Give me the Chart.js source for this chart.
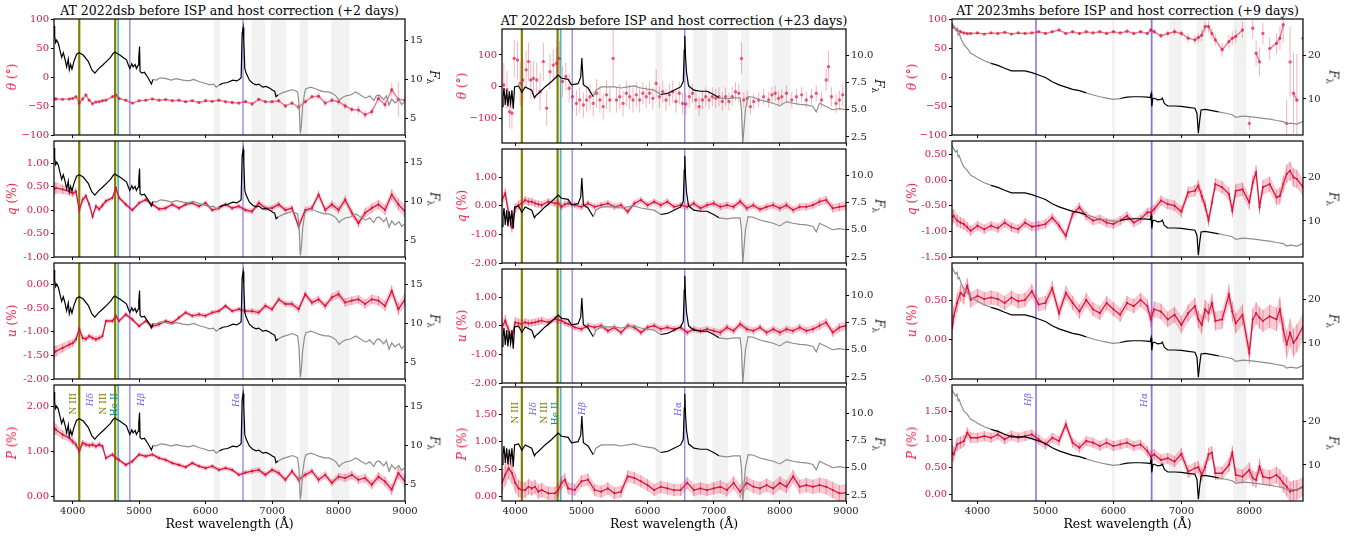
<!DOCTYPE html>
<html>
<head>
<meta charset="utf-8">
<script src="https://cdn.jsdelivr.net/npm/chart.js@4.4.0/dist/chart.umd.min.js"></script>
<style>
  body { margin: 0; width: 1365px; height: 537px; background: #fff; position: relative; overflow: hidden; font-family: 'DejaVu Serif', serif; }
  canvas { position: absolute; }
  .t, .yl, .fl { position: absolute; white-space: nowrap; line-height: 1; }
  .t { transform: translate(-50%, -50%); font-size: 12.5px; color: #000; }
  .yl { transform: translate(-50%, -50%) rotate(-90deg); font-size: 12px; color: #dc143c; }
  .fl { transform: translate(-50%, -50%) rotate(90deg); font-size: 12px; color: #222; }
  .fl sub { font-size: 8.5px; }
</style>
</head>
<body>
<script>
// ---------- AT 2022dsb, +2 days ----------
const wl1 = [3720, 3750, 3850, 3950, 4000, 4050, 4100, 4150, 4200, 4250,
  4300, 4350, 4400, 4450, 4500, 4600, 4650, 4700, 4800, 4900,
  5000, 5100, 5200, 5300, 5400, 5500, 5600, 5700, 5800, 5900,
  6000, 6100, 6200, 6300, 6400, 6500, 6600, 6700, 6800, 6900,
  7000, 7100, 7200, 7300, 7400, 7500, 7600, 7700, 7800, 7900,
  8000, 8100, 8200, 8300, 8400, 8500, 8600, 8700, 8800, 8900, 9000];
const theta1 = [-38, -38, -38.5, -38, -37, -34, -45, -38, -31, -40,
  -46, -43, -42.5, -41, -40, -34, -31, -37, -40, -45,
  -41, -40, -38, -40, -39, -41, -40, -42.5, -41, -44,
  -41, -42, -40, -42.5, -44, -45, -42.5, -46.5, -38.5, -42.5,
  -42.5, -41, -50, -45, -52, -42.5, -34, -33, -45, -40,
  -42.5, -50, -56, -57, -65, -60, -37, -48, -22, -38.5, -40];
const thetaErr1 = [3, 3, 2, 2, 2, 2, 2, 2, 2, 2,
  2, 2, 2, 2, 2, 2, 2, 2, 2, 2,
  2, 2, 2, 2, 2, 2, 2, 2, 2, 2,
  2.5, 2.5, 2.5, 2.5, 3, 3, 3, 3, 3, 3,
  3, 3, 3, 4, 5, 4, 4, 5, 6, 5,
  6, 6, 6, 7, 8, 7, 7, 8, 12, 30, 10];
const q1 = [0.44, 0.47, 0.44, 0.40, 0.35, 0.40, 0.00, 0.22, 0.30, 0.12,
  -0.14, 0.08, 0.02, 0.10, 0.19, 0.26, 0.47, 0.26, 0.12, 0.00,
  0.15, 0.22, 0.12, 0.02, 0.04, 0.12, 0.04, 0.12, 0.15, 0.08,
  0.15, 0.00, 0.04, 0.12, 0.04, 0.08, 0.00, -0.03, 0.15, 0.04,
  0.04, 0.12, 0.00, 0.04, -0.35, 0.00, 0.04, 0.33, 0.00, 0.12,
  0.00, 0.22, -0.06, -0.28, -0.06, 0.04, 0.12, 0.00, 0.33, 0.12, -0.03];
const u1 = [-1.45, -1.41, -1.34, -1.27, -1.24, -1.16, -0.94, -1.13, -1.15, -1.09,
  -1.13, -1.16, -1.13, -1.09, -0.77, -0.77, -0.66, -0.77, -0.63, -0.74,
  -0.88, -0.77, -0.88, -0.84, -0.77, -0.81, -0.70, -0.59, -0.66, -0.63,
  -0.66, -0.59, -0.56, -0.45, -0.56, -0.52, -0.56, -0.56, -0.59, -0.45,
  -0.52, -0.31, -0.41, -0.41, -0.52, -0.20, -0.38, -0.31, -0.45, -0.27,
  -0.20, -0.38, -0.34, -0.31, -0.41, -0.31, -0.34, -0.45, -0.13, -0.52, -0.31];
const p1 = [1.52, 1.48, 1.37, 1.30, 1.22, 1.15, 1.00, 1.19, 1.15, 1.13,
  1.15, 1.11, 1.15, 1.11, 0.85, 0.93, 0.85, 0.81, 0.70, 0.78,
  0.93, 0.89, 0.93, 0.85, 0.81, 0.74, 0.70, 0.65, 0.74, 0.67,
  0.63, 0.67, 0.59, 0.63, 0.59, 0.48, 0.53, 0.56, 0.59, 0.48,
  0.59, 0.52, 0.37, 0.56, 0.37, 0.48, 0.56, 0.37, 0.48, 0.30,
  0.44, 0.41, 0.48, 0.37, 0.41, 0.26, 0.44, 0.33, 0.15, 0.52, 0.33];
const polErr1 = [0.15, 0.12, 0.10, 0.09, 0.08, 0.08, 0.07, 0.07, 0.06, 0.06,
  0.06, 0.06, 0.06, 0.06, 0.05, 0.05, 0.05, 0.05, 0.05, 0.05,
  0.05, 0.05, 0.05, 0.05, 0.05, 0.05, 0.05, 0.05, 0.05, 0.05,
  0.05, 0.05, 0.05, 0.05, 0.05, 0.05, 0.05, 0.06, 0.06, 0.06,
  0.06, 0.06, 0.06, 0.07, 0.08, 0.07, 0.07, 0.08, 0.08, 0.08,
  0.08, 0.09, 0.09, 0.09, 0.10, 0.10, 0.10, 0.11, 0.12, 0.13, 0.14];
const fluxWl1 = [3720, 3730, 3745, 3760, 3785, 3810, 3835, 3860, 3885, 3910,
  3935, 3950, 3970, 3990, 4020, 4060, 4100, 4160, 4235, 4290,
  4335, 4385, 4450, 4510, 4570, 4610, 4635, 4670, 4710, 4760,
  4810, 4840, 4860, 4890, 4910, 4940, 4960, 4985, 4995, 5007,
  5015, 5040, 5080, 5135, 5185, 5210, 5260, 5320, 5410, 5480,
  5560, 5660, 5750, 5820, 5910, 5990, 6060, 6120, 6160, 6210,
  6260, 6330, 6410, 6470, 6510, 6535, 6550, 6565, 6575, 6590,
  6610, 6660, 6710, 6760, 6800, 6860, 6910, 6960, 7010, 7040,
  7060, 7090, 7160, 7230, 7310, 7385, 7405, 7425, 7440, 7460,
  7490, 7510, 7585, 7650, 7710, 7790, 7850, 7910, 7960, 8010,
  8060, 8110, 8180, 8260, 8330, 8410, 8470, 8530, 8570, 8610,
  8680, 8720, 8760, 8800, 8850, 8910, 8950, 8985];
const flux1 = [16.8, 15.5, 14.7, 15.0, 14.6, 13.7, 12.8, 13.4, 12.6, 11.6,
  12.6, 11.2, 11.9, 11.3, 12.3, 13.2, 13.4, 13.1, 12.3, 11.2,
  10.8, 11.3, 11.8, 12.3, 12.8, 13.3, 13.5, 13.3, 13.1, 12.8,
  12.5, 11.8, 11.4, 12.0, 11.6, 11.9, 11.4, 11.8, 12.8, 14.2,
  11.0, 10.8, 10.9, 10.2, 9.4, 10.0, 9.9, 10.2, 10.1, 9.9,
  10.1, 9.9, 9.8, 10.0, 9.7, 9.5, 9.3, 9.4, 9.0, 9.3,
  9.5, 9.6, 9.9, 9.8, 10.0, 10.2, 15.8, 16.6, 15.0, 11.4,
  10.8, 9.9, 9.5, 9.3, 9.4, 9.0, 9.1, 8.9, 8.6, 8.5,
  7.8, 8.0, 8.3, 8.5, 8.7, 8.4, 7.0, 3.1, 4.0, 6.5,
  8.3, 8.8, 9.0, 8.8, 8.6, 8.4, 8.4, 8.2, 7.9, 7.3,
  7.7, 7.9, 8.0, 8.4, 8.0, 7.6, 7.9, 7.3, 7.9, 8.0,
  7.4, 7.9, 6.7, 7.5, 7.0, 7.4, 6.8, 7.1];

// ---------- AT 2022dsb, +23 days ----------
const wl2 = [3800, 3850, 3900, 3950, 4000, 4050, 4100, 4150, 4200, 4250,
  4300, 4350, 4400, 4500, 4600, 4650, 4700, 4750, 4800, 4900,
  5000, 5100, 5200, 5300, 5400, 5500, 5600, 5700, 5800, 5900,
  6000, 6100, 6200, 6300, 6400, 6500, 6600, 6700, 6800, 6900,
  7000, 7100, 7200, 7300, 7400, 7500, 7600, 7700, 7800, 7900,
  8000, 8100, 8200, 8300, 8400, 8500, 8600, 8700, 8800, 8900, 9000];
const q2 = [0.20, 0.43, -0.27, -0.74, -0.09, 0.02, 0.08, 0.20, 0.14, 0.14,
  0.08, 0.05, 0.02, 0.14, 0.08, 0.10, -0.04, 0.05, 0.08, 0.02,
  -0.04, 0.08, -0.04, 0.02, 0.08, -0.04, 0.02, -0.21, 0.08, 0.20,
  0.02, 0.14, 0.02, 0.14, -0.04, 0.02, -0.04, 0.08, -0.09, 0.02,
  0.08, -0.04, 0.02, -0.04, 0.15, -0.09, 0.02, -0.13, -0.04, 0.02,
  -0.09, 0.02, -0.15, -0.04, -0.04, 0.02, 0.14, 0.20, -0.09, -0.04, -0.01];
const u2 = [-0.06, 0.18, -0.18, -0.41, 0.12, 0.08, 0.06, 0.12, 0.08, 0.10,
  0.12, 0.15, 0.18, 0.12, 0.24, 0.20, 0.18, 0.10, 0.06, -0.06,
  -0.12, 0.00, -0.06, 0.00, -0.18, -0.06, -0.24, 0.00, -0.06, -0.24,
  -0.06, 0.00, -0.12, -0.06, -0.12, -0.06, -0.24, -0.12, -0.18, -0.12,
  -0.18, -0.24, -0.06, -0.18, 0.06, -0.12, -0.18, -0.06, -0.24, -0.12,
  -0.24, -0.12, -0.18, -0.06, -0.18, -0.12, 0.00, 0.12, -0.24, -0.06, 0.00];
const p2 = [0.25, 0.40, 0.52, 0.43, 0.25, 0.15, 0.12, 0.12, 0.18, 0.15,
  0.18, 0.09, 0.12, 0.06, 0.06, 0.12, 0.25, 0.31, 0.15, 0.12,
  0.28, 0.31, 0.12, 0.09, 0.15, 0.06, 0.09, 0.37, 0.34, 0.28,
  0.21, 0.12, 0.18, 0.15, 0.12, 0.12, 0.25, 0.12, 0.15, 0.12,
  0.15, 0.18, 0.12, 0.25, 0.09, 0.25, 0.18, 0.15, 0.21, 0.15,
  0.25, 0.18, 0.37, 0.18, 0.21, 0.18, 0.21, 0.18, 0.12, 0.06, 0.07];
const polErr2 = [0.20, 0.20, 0.20, 0.20, 0.18, 0.16, 0.15, 0.14, 0.14, 0.13,
  0.13, 0.13, 0.13, 0.12, 0.12, 0.12, 0.12, 0.12, 0.11, 0.11,
  0.11, 0.11, 0.11, 0.11, 0.11, 0.11, 0.11, 0.11, 0.11, 0.11,
  0.11, 0.11, 0.11, 0.11, 0.11, 0.11, 0.11, 0.11, 0.11, 0.11,
  0.11, 0.12, 0.12, 0.12, 0.13, 0.12, 0.12, 0.12, 0.12, 0.12,
  0.12, 0.12, 0.12, 0.13, 0.13, 0.13, 0.14, 0.14, 0.15, 0.15, 0.16];
const thetaWl2 = [3827, 3875, 3915, 3950, 3985, 4035, 4075, 4115, 4165, 4200,
  4235, 4275, 4325, 4375, 4425, 4475, 4525, 4575, 4625, 4665,
  4715, 4765, 4815, 4865, 4925, 4975, 5030, 5080, 5130, 5180,
  5230, 5280, 5330, 5380, 5430, 5480, 5530, 5580, 5630, 5680,
  5730, 5780, 5830, 5880, 5930, 5980, 6030, 6080, 6130, 6180,
  6230, 6280, 6330, 6380, 6430, 6480, 6530, 6580, 6630, 6680,
  6730, 6780, 6830, 6880, 6930, 6980, 7030, 7080, 7130, 7180,
  7230, 7280, 7330, 7380, 7420, 7455, 7505, 7555, 7605, 7680,
  7755, 7830, 7880, 7930, 7980, 8030, 8100, 8180, 8250, 8330,
  8400, 8480, 8550, 8630, 8700, 8735, 8780, 8850, 8900, 8950];
const theta2 = [5, -10, -79, -84, 89, 84, 10, 21, 53, 79,
  21, 26, 21, -16, 79, -68, 47, 68, 74, 89,
  16, 32, -5, -32, -53, -42, -58, -42, -32, -53,
  -21, -42, -63, -26, -42, 89, -42, -32, -53, -21,
  -32, -42, -26, -42, -21, -32, -21, -37, 10, -32,
  -16, -42, -26, -16, -47, -21, -53, -55, -32, -21,
  -42, -63, -42, -32, -42, -32, -37, -32, -47, -32,
  -47, -32, -16, -21, 89, -42, -37, -63, -47, -42,
  -32, -42, -26, -21, -37, -32, -21, -42, -32, -26,
  -42, -32, -21, -42, 21, 63, -32, -53, -42, -26];
const thetaErr2 = [70, 60, 50, 50, 60, 60, 70, 70, 60, 60,
  60, 55, 55, 60, 60, 55, 55, 50, 50, 55,
  50, 45, 45, 45, 40, 40, 40, 40, 40, 40,
  45, 40, 40, 45, 40, 90, 40, 40, 40, 40,
  40, 40, 40, 40, 35, 35, 35, 35, 45, 35,
  35, 35, 35, 35, 35, 35, 35, 35, 35, 30,
  30, 30, 30, 30, 30, 30, 30, 30, 30, 30,
  30, 30, 30, 30, 50, 25, 25, 25, 25, 25,
  25, 25, 25, 25, 25, 25, 25, 25, 25, 25,
  25, 25, 25, 25, 35, 50, 30, 30, 30, 35];
const fluxWl2 = [3800, 3815, 3830, 3850, 3870, 3890, 3910, 3930, 3950, 3970,
  3990, 4050, 4100, 4150, 4250, 4290, 4310, 4350, 4450, 4550,
  4650, 4700, 4800, 4850, 4950, 4990, 5007, 5030, 5100, 5180,
  5220, 5300, 5400, 5500, 5600, 5700, 5800, 5900, 6000, 6100,
  6200, 6300, 6400, 6500, 6540, 6555, 6563, 6575, 6590, 6620,
  6700, 6800, 6900, 7000, 7080, 7200, 7300, 7400, 7420, 7440,
  7460, 7480, 7520, 7600, 7700, 7800, 7900, 8000, 8100, 8200,
  8300, 8400, 8500, 8550, 8600, 8700, 8800, 8900, 9000];
const flux2 = [5.3, 6.2, 7.0, 5.45, 6.8, 5.3, 6.7, 5.6, 6.8, 5.1,
  7.1, 7.2, 6.6, 7.1, 6.8, 6.1, 6.3, 6.5, 7.1, 7.6,
  8.2, 7.9, 7.8, 7.3, 7.4, 8.0, 9.75, 7.3, 7.0, 6.2,
  6.8, 7.1, 7.1, 7.1, 7.0, 7.1, 7.2, 7.0, 6.9, 6.8,
  6.4, 6.5, 6.8, 7.1, 7.6, 10.5, 11.8, 9.8, 8.4, 7.2,
  6.8, 6.7, 6.7, 6.4, 6.1, 6.0, 6.1, 6.1, 5.0, 1.9,
  3.5, 5.0, 6.2, 6.15, 5.9, 5.75, 5.6, 5.35, 5.75, 5.6,
  5.5, 5.45, 5.3, 4.8, 5.6, 5.3, 5.0, 5.1, 5.0];

// ---------- AT 2023mhs, +9 days ----------
const wl3 = [3625, 3650, 3700, 3750, 3800, 3850, 3900, 4000, 4100, 4200,
  4300, 4400, 4500, 4600, 4700, 4800, 4900, 5000, 5100, 5200,
  5300, 5400, 5500, 5600, 5700, 5800, 5900, 6000, 6100, 6200,
  6300, 6400, 6500, 6550, 6600, 6700, 6800, 6900, 7000, 7100,
  7200, 7250, 7300, 7350, 7400, 7450, 7500, 7600, 7700, 7750,
  7800, 7900, 8000, 8050, 8100, 8150, 8200, 8300, 8400, 8450,
  8500, 8550, 8600, 8650, 8700, 8790];
const theta3 = [90, 86, 81, 78, 76, 75, 75, 76, 74, 76,
  75, 77, 74, 76, 75, 76, 78, 75, 78, 81,
  75, 78, 75, 78, 76, 78, 75, 78, 76, 79,
  75, 78, 75, 81, 78, 71, 75, 78, 75, 67,
  64, 68, 72, 87, 87, 75, 64, 47, 61, 67,
  70, 81, -80, 84, 41, 26, 75, 49, 58, 67,
  90, -80, 26, -28, -40, 67];
const thetaErr3 = [3, 3, 2.5, 2.5, 2, 2, 2, 2, 2, 2,
  2, 2, 2, 2, 2, 2, 2, 2, 2, 2.5,
  2.5, 2.5, 2.5, 3, 3, 3, 3, 3, 3, 3,
  3, 3, 3, 4, 4, 5, 5, 6, 6, 8,
  8, 8, 10, 10, 10, 10, 10, 12, 12, 12,
  12, 14, 12, 18, 22, 25, 18, 20, 18, 20,
  30, 40, 60, 70, 80, 40];
const q3 = [-0.73, -0.70, -0.79, -0.83, -0.86, -0.92, -0.99, -0.89, -0.96, -0.89,
  -0.94, -0.83, -0.92, -0.96, -0.83, -0.91, -0.89, -0.86, -0.73, -0.89,
  -1.09, -0.66, -0.53, -0.70, -0.79, -0.76, -0.83, -0.86, -0.79, -0.70,
  -0.83, -0.76, -0.63, -0.63, -0.57, -0.40, -0.47, -0.50, -0.62, -0.24,
  -0.21, -0.11, -0.31, -0.50, -0.79, -0.44, -0.08, -0.14, -0.27, -0.60,
  -0.21, -0.18, -0.44, -0.05, 0.15, -0.53, -0.14, -0.08, -0.34, -0.31,
  -0.08, 0.12, 0.18, 0.05, 0.02, -0.14];
const u3 = [0.15, 0.30, 0.47, 0.60, 0.56, 0.69, 0.51, 0.56, 0.52, 0.54,
  0.52, 0.47, 0.54, 0.49, 0.51, 0.62, 0.45, 0.47, 0.66, 0.34,
  0.60, 0.47, 0.36, 0.51, 0.39, 0.34, 0.47, 0.39, 0.32, 0.47,
  0.43, 0.51, 0.43, 0.26, 0.39, 0.36, 0.26, 0.32, 0.19, 0.34,
  0.43, 0.26, 0.19, 0.39, 0.34, 0.47, 0.24, 0.26, 0.58, 0.36,
  0.21, 0.32, -0.17, 0.26, 0.34, 0.28, 0.24, 0.30, 0.26, 0.39,
  0.13, -0.06, 0.09, -0.04, 0.02, 0.17];
const p3 = [0.76, 0.73, 0.91, 0.94, 0.97, 1.12, 1.03, 1.03, 1.06, 1.03,
  1.09, 1.00, 1.07, 1.03, 1.06, 1.09, 1.00, 0.91, 1.03, 0.97,
  1.27, 0.94, 0.85, 0.97, 0.94, 0.88, 0.94, 0.88, 0.91, 0.94,
  0.88, 0.91, 0.79, 0.69, 0.73, 0.63, 0.66, 0.60, 0.74, 0.42,
  0.48, 0.50, 0.36, 0.50, 0.73, 0.76, 0.39, 0.39, 0.54, 0.76,
  0.36, 0.33, 0.45, 0.30, 0.27, 0.51, 0.33, 0.30, 0.36, 0.30,
  0.21, 0.15, 0.06, 0.08, 0.09, 0.15];
const polErr3 = [0.15, 0.13, 0.12, 0.11, 0.11, 0.10, 0.10, 0.09, 0.09, 0.09,
  0.09, 0.09, 0.09, 0.09, 0.09, 0.09, 0.09, 0.09, 0.09, 0.09,
  0.09, 0.09, 0.09, 0.09, 0.09, 0.09, 0.09, 0.09, 0.09, 0.09,
  0.09, 0.09, 0.09, 0.10, 0.10, 0.10, 0.10, 0.10, 0.11, 0.11,
  0.11, 0.11, 0.12, 0.12, 0.12, 0.12, 0.12, 0.12, 0.13, 0.13,
  0.13, 0.13, 0.14, 0.14, 0.14, 0.14, 0.14, 0.15, 0.15, 0.16,
  0.16, 0.18, 0.18, 0.18, 0.18, 0.17];
const fluxWl3 = [3625, 3650, 3680, 3700, 3715, 3730, 3760, 3800, 3850, 3900,
  3950, 4000, 4100, 4200, 4300, 4400, 4500, 4600, 4700, 4800,
  4900, 5000, 5100, 5200, 5300, 5400, 5500, 5600, 5700, 5800,
  5900, 6000, 6100, 6200, 6300, 6400, 6500, 6540, 6555, 6565,
  6580, 6600, 6650, 6700, 6720, 6750, 6800, 6900, 7000, 7100,
  7200, 7230, 7250, 7270, 7290, 7350, 7450, 7550, 7650, 7750,
  7800, 7900, 8000, 8100, 8200, 8300, 8400, 8500, 8550, 8600,
  8700, 8790];
const flux3 = [27.2, 26.4, 25.7, 26.1, 24.6, 24.9, 23.6, 22.3, 21.5, 20.4,
  20.0, 19.5, 18.7, 18.1, 17.65, 17.0, 16.4, 16.4, 16.4, 16.0,
  15.45, 14.9, 13.9, 13.2, 12.7, 12.2, 11.9, 11.4, 10.9, 10.5,
  10.2, 9.9, 10.1, 10.4, 10.5, 10.5, 10.4, 10.3, 11.2, 8.3,
  10.0, 10.2, 9.8, 9.9, 10.2, 9.0, 8.4, 8.4, 8.3, 8.1,
  7.9, 6.7, 2.2, 5.2, 7.5, 7.65, 7.35, 7.05, 6.75, 6.4,
  5.8, 6.1, 6.0, 5.8, 5.6, 5.4, 5.1, 4.85, 4.3, 4.5,
  4.3, 4.85];

// ---------- tick labels ----------
const wlTicks12 = [4000, 5000, 6000, 7000, 8000, 9000];
const wlTicks3 = [4000, 5000, 6000, 7000, 8000];
const thetaTicks1 = [-100, -50, 0, 50, 100];
const thetaTicks2 = [-100, 0, 100];
const thetaTicks3 = [-100, -50, 0, 50, 100];
const qTicks1 = [-1, -0.5, 0, 0.5, 1];
const uTicks1 = [-2, -1.5, -1, -0.5, 0];
const pTicks1 = [0, 1, 2];
const quTicks2 = [-2, -1, 0, 1];
const pTicks2 = [0, 0.5, 1, 1.5];
const qTicks3 = [-1.5, -1, -0.5, 0, 0.5];
const uTicks3 = [-0.5, 0, 0.5];
const pTicks3 = [0, 0.5, 1, 1.5];
const fluxTicks1 = [5, 10, 15];
const fluxTicks2 = [2.5, 5, 7.5, 10];
const fluxTicks3 = [10, 20];

// ---------- styling / layout ----------
const CRIMSON = '#dc143c';
const OLIVE = '#808000';
const TEAL = 'rgba(0,139,139,0.65)';
const HBLUE = 'rgba(123,104,238,0.9)';
const FONT = "'DejaVu Serif', serif";
const LW = 48, RW = 30, TP = 10, BH = 10, BH_LAST = 36;

Chart.defaults.font.family = FONT;

const bands12 = [[6120, 6220], [6690, 6900], [6980, 7215], [7415, 7540], [7890, 8165]];
const bands3 = [[5980, 6020], [6815, 7005], [7225, 7355], [7765, 7960]];
const lines12 = [
  {at: 4100, color: OLIVE, width: 2.2}, {at: 4640, color: OLIVE, width: 2.2},
  {at: 4686, color: TEAL, width: 1.8}, {at: 4861, color: HBLUE, width: 1.2},
  {at: 6563, color: HBLUE, width: 1.2}];
const lines3 = [{at: 4861, color: HBLUE, width: 1.6}, {at: 6563, color: HBLUE, width: 1.8}];
const lab = (text, at, color, italic) => ({text, at, color, italic: !!italic});
const labels1 = [lab('N III', 4010, OLIVE), lab('Hδ', 4270, '#7b68ee', 1), lab('N III', 4470, OLIVE),
  lab('He II', 4635, '#1a8f86'), lab('Hβ', 5035, '#7b68ee', 1), lab('Hα', 6470, '#7b68ee', 1)];
const labels2 = [lab('N III', 4000, OLIVE), lab('Hδ', 4276, '#7b68ee', 1), lab('N III', 4452, OLIVE),
  lab('He II', 4618, '#1a8f86'), lab('Hβ', 5020, '#7b68ee', 1), lab('Hα', 6464, '#7b68ee', 1)];
const labels3 = [lab('Hβ', 4748, '#7b68ee', 1), lab('Hα', 6464, '#7b68ee', 1)];

const int = v => String(v);
const minus = v => (v < 0 ? '\u2212' + (-v) : String(v));
const two = v => v.toFixed(2);
const one = v => v.toFixed(1);

const columns = [
  {
    title: 'AT 2022dsb before ISP and host correction (+2 days)',
    left: 54, width: 351, tops: [19, 141, 263, 385], height: 116, titleY: 11, labelX: 12, fluxLabelX: 433, featTop: 8,
    xr: [3720, 9000], xt: wlTicks12,
    fluxWl: fluxWl1, flux: flux1, fr: [2.9, 17.7], ft: fluxTicks1, ff: int, black: [[3700, 5200], [6200, 7090]],
    bands: bands12, lines: lines12, labels: labels1,
    rows: [
      {name: 'θ', unit: '(°)', wl: wl1, y: theta1, err: thetaErr1, r: [-100, 100], t: thetaTicks1, f: minus, theta: 'joined'},
      {name: 'q', unit: '(%)', wl: wl1, y: q1, err: polErr1, r: [-1, 1.47], t: qTicks1, f: two},
      {name: 'u', unit: '(%)', wl: wl1, y: u1, err: polErr1, r: [-2, 0.46], t: uTicks1, f: two},
      {name: 'P', unit: '(%)', wl: wl1, y: p1, err: polErr1, r: [-0.1, 2.47], t: pTicks1, f: two}]
  },
  {
    title: 'AT 2022dsb before ISP and host correction (+23 days)',
    left: 502, width: 344, tops: [29, 149, 269, 387], height: 114, titleY: 21, labelX: 462, fluxLabelX: 878, featTop: 15,
    xr: [3800, 9000], xt: wlTicks12,
    fluxWl: fluxWl2, flux: flux2, fr: [1.94, 12.43], ft: fluxTicks2, ff: one, black: [[3790, 5200], [6200, 7090]],
    bands: bands12, lines: lines12, labels: labels2,
    rows: [
      {name: 'θ', unit: '(°)', wl: thetaWl2, y: theta2, err: thetaErr2, r: [-178, 182], t: thetaTicks2, f: minus, theta: 'scatter'},
      {name: 'q', unit: '(%)', wl: wl2, y: q2, err: polErr2, r: [-2, 1.98], t: quTicks2, f: two},
      {name: 'u', unit: '(%)', wl: wl2, y: u2, err: polErr2, r: [-2, 1.98], t: quTicks2, f: two},
      {name: 'P', unit: '(%)', wl: wl2, y: p2, err: polErr2, r: [-0.08, 2.0], t: pTicks2, f: two}]
  },
  {
    title: 'AT 2023mhs before ISP and host correction (+9 days)',
    left: 952, width: 351, tops: [19, 141, 263, 385], height: 116, titleY: 11, labelX: 912, fluxLabelX: 1332, featTop: 8,
    xr: [3625, 8790], xt: wlTicks3,
    fluxWl: fluxWl3, flux: flux3, fr: [1.8, 28.2], ft: fluxTicks3, ff: int, black: [[4200, 5650], [6100, 7540]],
    bands: bands3, lines: lines3, labels: labels3,
    rows: [
      {name: 'θ', unit: '(°)', wl: wl3, y: theta3, err: thetaErr3, r: [-100, 100], t: thetaTicks3, f: minus, theta: 'broken'},
      {name: 'q', unit: '(%)', wl: wl3, y: q3, err: polErr3, r: [-1.5, 0.76], t: qTicks3, f: two},
      {name: 'u', unit: '(%)', wl: wl3, y: u3, err: polErr3, r: [-0.5, 0.98], t: uTicks3, f: two},
      {name: 'P', unit: '(%)', wl: wl3, y: p3, err: polErr3, r: [-0.11, 1.98], t: pTicks3, f: two}]
  }
];

const xy = (xs, ys) => xs.map((x, i) => ({x, y: ys[i]}));
const fixedTicks = list => s => { s.ticks = list.map(v => ({value: v})); };
const inRanges = (v, ranges) => ranges.some(([a, b]) => v >= a && v < b);

// bands, marker lines, error bars underneath; feature labels and frame on top
const decor = {
  id: 'decor',
  beforeDatasetsDraw(chart, args, o) {
    const {ctx, chartArea: a} = chart;
    const x = chart.scales.x;
    ctx.save();
    ctx.beginPath();
    ctx.rect(a.left, a.top, a.right - a.left, a.bottom - a.top);
    ctx.clip();
    ctx.fillStyle = '#f2f2f2';
    o.bands.forEach(b => {
      const l = x.getPixelForValue(b[0]), r = x.getPixelForValue(b[1]);
      ctx.fillRect(l, a.top, r - l, a.bottom - a.top);
    });
    o.lines.forEach(L => {
      const px = x.getPixelForValue(L.at);
      ctx.strokeStyle = L.color;
      ctx.lineWidth = L.width;
      ctx.beginPath();
      ctx.moveTo(px, a.top);
      ctx.lineTo(px, a.bottom);
      ctx.stroke();
    });
    chart.data.datasets.forEach(ds => {
      if (!ds.errors) return;
      const y = chart.scales[ds.yAxisID];
      const pts = ds.data, e = ds.errors;
      if (ds.errBand) {
        ctx.fillStyle = 'rgba(220,20,60,0.22)';
        ctx.beginPath();
        pts.forEach((p, k) => {
          const px = x.getPixelForValue(p.x), py = y.getPixelForValue(p.y + e[k]);
          if (k === 0) ctx.moveTo(px, py); else ctx.lineTo(px, py);
        });
        for (let k = pts.length - 1; k >= 0; k--) {
          ctx.lineTo(x.getPixelForValue(pts[k].x), y.getPixelForValue(pts[k].y - e[k]));
        }
        ctx.closePath();
        ctx.fill();
      }
      ctx.strokeStyle = ds.errBand ? 'rgba(220,20,60,0.35)' : 'rgba(220,20,60,0.32)';
      ctx.lineWidth = 1;
      ctx.beginPath();
      pts.forEach((p, k) => {
        const px = x.getPixelForValue(p.x);
        ctx.moveTo(px, y.getPixelForValue(p.y - e[k]));
        ctx.lineTo(px, y.getPixelForValue(p.y + e[k]));
      });
      ctx.stroke();
    });
    ctx.restore();
  },
  afterDatasetsDraw(chart, args, o) {
    if (!o.labels || !o.labels.length) return;
    const {ctx, chartArea: a} = chart;
    const x = chart.scales.x;
    ctx.save();
    ctx.textAlign = 'right';
    ctx.textBaseline = 'middle';
    o.labels.forEach(L => {
      ctx.font = (L.italic ? 'italic ' : '') + '9px ' + FONT;
      ctx.fillStyle = L.color;
      ctx.save();
      ctx.translate(x.getPixelForValue(L.at), a.top + o.top);
      ctx.rotate(-Math.PI / 2);
      ctx.fillText(L.text, 0, 0);
      ctx.restore();
    });
    ctx.restore();
  },
  afterDraw(chart) {
    const {ctx, chartArea: a} = chart;
    ctx.save();
    ctx.strokeStyle = '#000';
    ctx.lineWidth = 1.2;
    ctx.strokeRect(a.left, a.top, a.right - a.left, a.bottom - a.top);
    ctx.restore();
  }
};

function addText(html, cls, x, y) {
  const d = document.createElement('div');
  d.className = cls;
  d.innerHTML = html;
  d.style.left = x + 'px';
  d.style.top = y + 'px';
  document.body.appendChild(d);
}

function polDataset(row) {
  const base = {data: xy(row.wl, row.y), yAxisID: 'y', errors: row.err, order: 1, tension: 0};
  if (row.theta) {
    const joined = row.theta !== 'scatter';
    return Object.assign(base, {
      showLine: joined,
      borderColor: 'rgba(220,20,60,0.55)', borderWidth: 1.5,
      pointRadius: 1.7, pointBorderWidth: 0, pointBackgroundColor: 'rgba(220,20,60,0.65)',
      segment: row.theta === 'broken'
        ? {borderColor: c => Math.abs(c.p1.parsed.y - c.p0.parsed.y) > 25 ? 'rgba(0,0,0,0)' : 'rgba(220,20,60,0.55)'}
        : undefined
    });
  }
  return Object.assign(base, {
    errBand: true, borderColor: CRIMSON, borderWidth: 1.3,
    pointRadius: 1.1, pointBorderWidth: 0, pointBackgroundColor: CRIMSON
  });
}

columns.forEach(col => {
  addText(col.title, 't', col.left + col.width / 2, col.titleY);
  col.rows.forEach((row, r) => {
    const last = r === col.rows.length - 1;
    const bh = last ? BH_LAST : BH;
    const top = col.tops[r];
    const cv = document.createElement('canvas');
    cv.width = LW + col.width + RW;
    cv.height = TP + col.height + bh;
    cv.style.left = (col.left - LW) + 'px';
    cv.style.top = (top - TP) + 'px';
    document.body.appendChild(cv);

    addText('<i>' + row.name + '</i> ' + row.unit, 'yl', col.labelX, top + col.height / 2);
    addText('<i>F</i><sub>λ</sub>', 'fl', col.fluxLabelX, top + col.height / 2);

    const tickGrid = {drawOnChartArea: false, drawTicks: true, tickLength: 3, color: '#000', lineWidth: 1};
    new Chart(cv, {
      type: 'line',
      data: {
        datasets: [
          {
            data: xy(col.fluxWl, col.flux), yAxisID: 'y2', order: 0,
            borderColor: '#000', borderWidth: 1.2, pointRadius: 0, tension: 0,
            segment: {borderColor: c => inRanges((c.p0.parsed.x + c.p1.parsed.x) / 2, col.black) ? '#000' : '#8e8e8e'}
          },
          polDataset(row)
        ]
      },
      options: {
        responsive: false, animation: false, devicePixelRatio: 1, events: [],
        layout: {padding: {top: TP, left: 0, right: 0, bottom: 0}},
        plugins: {
          legend: {display: false}, tooltip: {enabled: false},
          decor: {bands: col.bands, lines: col.lines, labels: last ? col.labels : [], top: col.featTop}
        },
        scales: {
          x: {
            type: 'linear', min: col.xr[0], max: col.xr[1],
            afterBuildTicks: fixedTicks(col.xt),
            afterFit: s => { s.height = bh; },
            grid: tickGrid, border: {display: false},
            ticks: {display: last, color: '#222', font: {size: 10}, padding: 1, maxRotation: 0, autoSkip: false, callback: int},
            title: {display: last, text: 'Rest wavelength (Å)', color: '#000', font: {size: 12.5}, padding: {top: 0, bottom: 5}}
          },
          y: {
            position: 'left', min: row.r[0], max: row.r[1],
            afterBuildTicks: fixedTicks(row.t),
            afterFit: s => { s.width = LW; },
            grid: tickGrid, border: {display: false},
            ticks: {color: CRIMSON, font: {size: 10}, padding: 2, callback: row.f}
          },
          y2: {
            position: 'right', min: col.fr[0], max: col.fr[1],
            afterBuildTicks: fixedTicks(col.ft),
            afterFit: s => { s.width = RW; },
            grid: tickGrid, border: {display: false},
            ticks: {color: '#222', font: {size: 10}, padding: 2, callback: col.ff}
          }
        }
      },
      plugins: [decor]
    });
  });
});
</script>
</body>
</html>
